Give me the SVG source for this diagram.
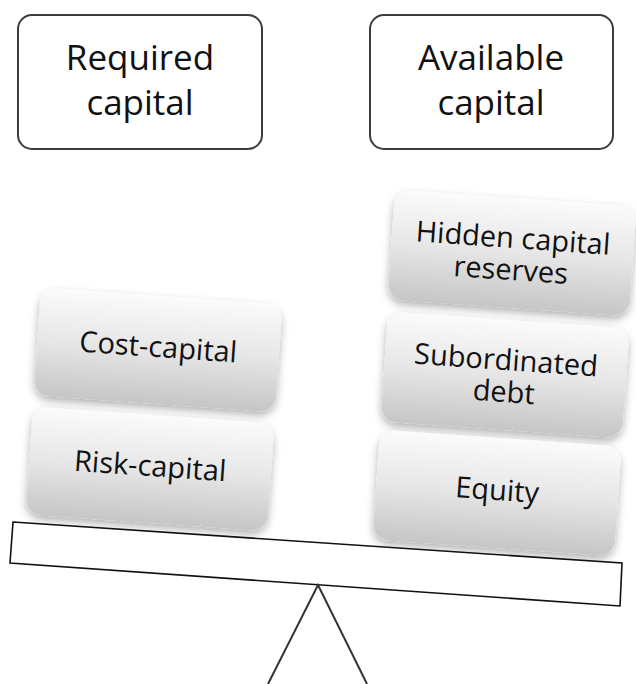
<svg xmlns="http://www.w3.org/2000/svg" width="636" height="684" viewBox="0 0 636 684">
<defs>
<linearGradient id="g" x1="0" y1="0" x2="0" y2="1">
<stop offset="0" stop-color="#fbfbfb"/>
<stop offset="0.5" stop-color="#e6e6e6"/>
<stop offset="1" stop-color="#c6c6c6"/>
</linearGradient>
<filter id="sh" x="-10%" y="-10%" width="120%" height="130%">
<feDropShadow dx="0" dy="4" stdDeviation="4" flood-color="#000" flood-opacity="0.3"/>
</filter>
</defs>
<style>
.hd{fill:#fff;stroke:#3c3c3c;stroke-width:2}
.hdt{font-family:"Open Sans",sans-serif;font-size:35px;fill:#111;text-anchor:middle}
.blk{fill:url(#g);filter:url(#sh)}
.bt{font-family:"Open Sans",sans-serif;font-size:29px;fill:#111;text-anchor:middle}
.beam{fill:#fff;stroke:#111;stroke-width:1.6}
.leg{fill:none;stroke:#333;stroke-width:2}
</style>
<g id="required">
<rect class="hd" x="18" y="15" width="244" height="134" rx="14"/>
<text class="hdt" x="140" y="70">Required</text>
<text class="hdt" x="140" y="115">capital</text>
</g>
<g id="available">
<rect class="hd" x="370" y="15" width="243" height="134" rx="14"/>
<text class="hdt" x="491" y="70">Available</text>
<text class="hdt" x="491" y="115">capital</text>
</g>
<g id="cost-capital" transform="translate(158,350) rotate(4)">
<rect class="blk" x="-121" y="-54" width="242" height="108" rx="16"/>
<text class="bt" x="0" y="7">Cost-capital</text>
</g>
<g id="risk-capital" transform="translate(150,469) rotate(4)">
<rect class="blk" x="-121" y="-54" width="242" height="108" rx="16"/>
<text class="bt" x="0" y="7">Risk-capital</text>
</g>
<g id="hidden-reserves" transform="translate(512,253) rotate(4)">
<rect class="blk" x="-121" y="-55" width="242" height="110" rx="16"/>
<text class="bt" x="0" y="-5">Hidden capital</text>
<text class="bt" x="0" y="27">reserves</text>
</g>
<g id="subordinated-debt" transform="translate(505,375) rotate(4)">
<rect class="blk" x="-121" y="-55" width="242" height="110" rx="16"/>
<text class="bt" x="0" y="-5">Subordinated</text>
<text class="bt" x="0" y="27">debt</text>
</g>
<g id="equity" transform="translate(497,493) rotate(4)">
<rect class="blk" x="-121" y="-55" width="242" height="110" rx="16"/>
<text class="bt" x="0" y="7">Equity</text>
</g>
<g id="seesaw">
<polygon class="beam" points="13,522 622,563 620,606 10,563"/>
<polyline class="leg" points="268,684 318,585 367,684"/>
</g>
</svg>
